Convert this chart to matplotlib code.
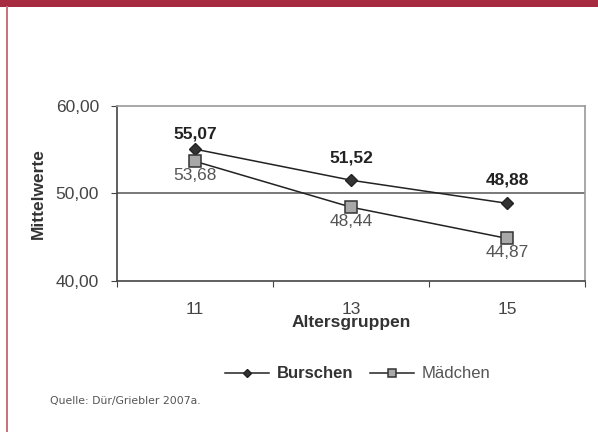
import matplotlib.pyplot as plt
from matplotlib.patches import Rectangle
from matplotlib.lines import Line2D

plt.rcParams['font.family'] = ['Liberation Sans', 'DejaVu Sans']

gruppen = ["11", "13", "15"]
burschen = [55.07, 51.52, 48.88]
maedchen = [53.68, 48.44, 44.87]
y_ticks = [40, 50, 60]

fig = plt.figure(figsize=(5.98, 4.32), dpi=100)
fig.patch.set_facecolor("white")

# red header bar and left border
fig.add_artist(Rectangle((0, 1 - 7 / 432), 1, 7 / 432, transform=fig.transFigure,
                         facecolor="#a62a40", edgecolor="none"))
fig.add_artist(Line2D([7 / 598, 7 / 598], [0, 1 - 7 / 432], transform=fig.transFigure,
                      color="#c9707c", lw=1.4))

ax = fig.add_axes([117 / 598, 1 - 281 / 432, 468 / 598, 175 / 432])
x = range(len(gruppen))

ax.plot(x, burschen, color="#222222", lw=1.1, marker="D", ms=6.5,
        mfc="#333333", mec="#222222", label="Burschen", zorder=3)
ax.plot(x, maedchen, color="#222222", lw=1.1, marker="s", ms=8,
        mfc="#a8a8a8", mec="#333333", mew=1.1, label="Mädchen", zorder=3)

# label offsets (points) as placed in the original
b_off = [5.5, 10.5, 11.5]
for i, v in enumerate(burschen):
    ax.annotate(f"{v:.2f}".replace(".", ","), (i, v), xytext=(0, b_off[i]),
                textcoords="offset points", ha="center", va="bottom",
                fontsize=12.5, fontweight="bold", color="#222222")
for i, v in enumerate(maedchen):
    ax.annotate(f"{v:.2f}".replace(".", ","), (i, v), xytext=(0, -5),
                textcoords="offset points", ha="center", va="top",
                fontsize=12.5, color="#555555")

ax.set_xlim(-0.5, 2.5)
ax.set_ylim(40, 60)
ax.set_yticks(y_ticks)
ax.set_yticklabels([f"{t:.2f}".replace(".", ",") for t in y_ticks],
                   fontsize=12.5, color="#444444")
ax.set_xticks([-0.5, 0.5, 1.5, 2.5])
ax.set_xticklabels([])
ax.set_xticks(list(x), minor=True)
ax.set_xticklabels(gruppen, minor=True, fontsize=12.5, color="#444444")
ax.tick_params(axis="x", which="minor", length=0, pad=15)
ax.tick_params(axis="x", which="major", length=4, color="#444444", direction="out")
ax.tick_params(axis="y", length=4, color="#444444", direction="out", pad=9)

ax.axhline(50, color="#555555", lw=1.1, zorder=1)
for s in ["left", "bottom"]:
    ax.spines[s].set_color("#444444")
    ax.spines[s].set_linewidth(1.2)
for s in ["top", "right"]:
    ax.spines[s].set_color("#999999")
    ax.spines[s].set_linewidth(1.2)

ax.set_ylabel("Mittelwerte", fontsize=12.5, fontweight="bold", color="#333333")
ax.yaxis.set_label_coords(-0.152, 0.5)
fig.text(351 / 598, 1 - 323 / 432, "Altersgruppen", ha="center", va="center",
         fontsize=12.5, fontweight="bold", color="#333333")

fig.legend(loc="center", bbox_to_anchor=(358 / 598, 1 - 374 / 432), ncol=2,
           frameon=False, fontsize=12, handlelength=2.6, columnspacing=1.0,
           handletextpad=0.5, markerscale=0.7)
leg = fig.legends[0]
leg.get_texts()[0].set_fontweight("bold")
leg.get_texts()[0].set_color("#333333")
leg.get_texts()[1].set_color("#555555")

fig.text(50 / 598, 1 - 401 / 432, "Quelle: Dür/Griebler 2007a.", fontsize=7.8,
         family="DejaVu Sans", color="#555555", va="center")

fig.savefig("out.png", dpi=100)
